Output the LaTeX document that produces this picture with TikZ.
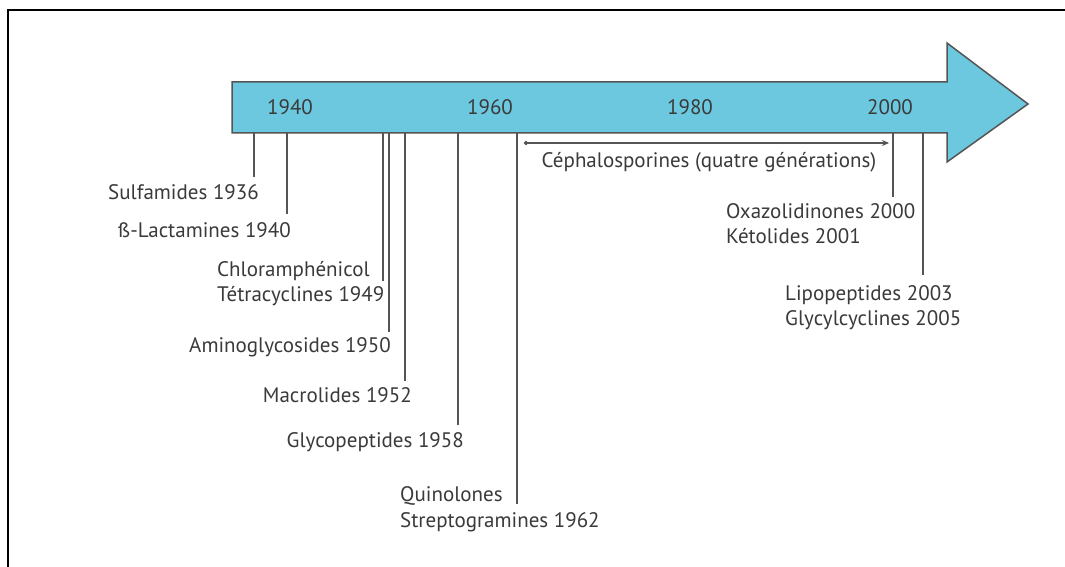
\documentclass[tikz,border=0pt]{standalone}
\usepackage{fontspec}
\setmainfont{PT Sans}
\usetikzlibrary{arrows.meta}
\definecolor{barfill}{HTML}{6CC8DF}
\definecolor{txt}{HTML}{3A3A3A}
\definecolor{ln}{HTML}{555555}
\tikzset{
  lbl/.style={inner sep=0pt, text=txt, font=\fontsize{21}{25}\selectfont},
  lblr/.style={lbl, anchor=base east},
  lbll/.style={lbl, anchor=base west},
  yr/.style={lbl, anchor=base},
  tick/.style={draw=ln, line width=1.5pt},
}
\begin{document}
\begin{tikzpicture}[x=1pt,y=-1pt]
\useasboundingbox (0,0) rectangle (1065,567);
\fill[white] (0,0) rectangle (1065,567);
% frame
\draw[line width=2pt, black] (8,567) -- (8,10) -- (1065,10);
% timeline bar with arrow head
\draw[fill=barfill, draw=ln, line width=1.5pt, line join=miter]
  (232,82) -- (947,82) -- (947,43) -- (1028,104) -- (947,162) -- (947,133) -- (232,133) -- cycle;
\coordinate (barb) at (232,133);
% years
\node[yr] (y1940) at (290,114) {1940};
\node[yr] (y1960) at (490,114) {1960};
\node[yr] (y1980) at (690,114) {1980};
\node[yr] (y2000) at (890,114) {2000};
% labels
\node[lblr] (sulf) at (259,199) {Sulfamides 1936};
\node[lblr] (blac) at (291,237) {ß-Lactamines 1940};
\node[lbll] (chlo) at (217,276) {Chloramphénicol};
\node[lbll] (tetr) at (217,301) {Tétracyclines 1949};
\node[lblr] (amin) at (391,352) {Aminoglycosides 1950};
\node[lblr] (macr) at (412,402) {Macrolides 1952};
\node[lblr] (glyc) at (464,447) {Glycopeptides 1958};
\node[lbll] (quin) at (400,501) {Quinolones};
\node[lbll] (stre) at (400,527) {Streptogramines 1962};
\node[lbl, anchor=base] (ceph) at (709,167) {Céphalosporines (quatre générations)};
\node[lbll] (oxaz) at (726,218) {Oxazolidinones 2000};
\node[lbll] (keto) at (726,243) {Kétolides 2001};
\node[lbll] (lipo) at (785,300) {Lipopeptides 2003};
\node[lbll] (glcy) at (785,325) {Glycylcyclines 2005};
% tick end points
\coordinate (e1936) at (254,177);
\coordinate (e1940) at (287,214);
\coordinate (e1949) at (383,281);
\coordinate (e1950) at (389,332);
\coordinate (e1952) at (405,381);
\coordinate (e1958) at (458,425);
\coordinate (e1962) at (517,504);
\coordinate (e2000) at (893,197);
\coordinate (e2003) at (923,275);
\foreach \e in {e1936,e1940,e1949,e1950,e1952,e1958,e1962,e2000,e2003}{
  \draw[tick] (barb -| \e) -- (\e);
}
% cephalosporines range
\coordinate (cs) at (524,143);
\coordinate (ce) at (889,143);
\draw[draw=ln, line width=1.5pt, {Circle[length=4pt,fill=ln]}-{Stealth[length=7pt,width=6pt,fill=ln]}] (cs) -- (ce);
\end{tikzpicture}
\end{document}
